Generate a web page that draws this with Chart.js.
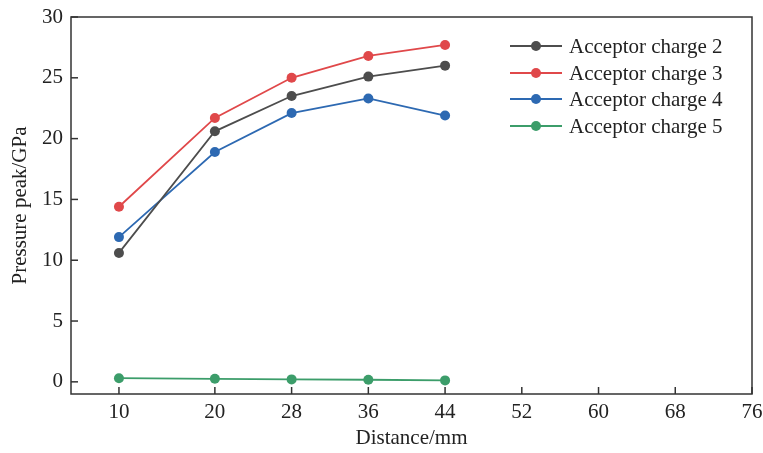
<!DOCTYPE html>
<html>
<head>
<meta charset="utf-8">
<script src="https://cdn.jsdelivr.net/npm/chart.js@4.4.1/dist/chart.umd.min.js"></script>
<style>
html,body{margin:0;padding:0;background:#fff;}
#wrap{width:763px;height:453px;position:relative;}
</style>
</head>
<body>
<div id="wrap"><canvas id="c" width="763" height="453"></canvas></div>
<script>
const distances = [10, 20, 28, 36, 44];
const xTickValues = [10, 20, 28, 36, 44, 52, 60, 68, 76];
const yTickValues = [0, 5, 10, 15, 20, 25, 30];
const charge2 = [10.6, 20.6, 23.5, 25.1, 26.0];
const charge3 = [14.4, 21.7, 25.0, 26.8, 27.7];
const charge4 = [11.9, 18.9, 22.1, 23.3, 21.9];
const charge5 = [0.3, 0.25, 0.2, 0.17, 0.12];
const seriesNames = ['Acceptor charge 2', 'Acceptor charge 3', 'Acceptor charge 4', 'Acceptor charge 5'];
const seriesColors = ['#4d4d4d', '#e0484a', '#2d69b2', '#3c9d6a'];

const FONT = '"Liberation Serif", "Times New Roman", serif';
const AXIS = '#333333';

function toPts(vals){ return vals.map((v,i)=>({x:distances[i], y:v})); }
const allSeries = [charge2, charge3, charge4, charge5];

const datasets = allSeries.map((vals, i) => ({
  label: seriesNames[i],
  data: toPts(vals),
  borderColor: seriesColors[i],
  backgroundColor: seriesColors[i],
  borderWidth: 1.8,
  pointRadius: 5,
  pointHoverRadius: 5,
  pointBorderWidth: 0,
  tension: 0
}));

const framePlugin = {
  id: 'frame',
  afterDraw(chart){
    const {ctx, chartArea:a, scales} = chart;
    ctx.save();
    ctx.strokeStyle = AXIS;
    ctx.lineWidth = 1.5;
    ctx.strokeRect(a.left, a.top, a.right - a.left, a.bottom - a.top);
    const tl = 7;
    scales.x.ticks.forEach(t => {
      const px = scales.x.getPixelForValue(t.value);
      ctx.beginPath(); ctx.moveTo(px, a.bottom); ctx.lineTo(px, a.bottom - tl); ctx.stroke();
    });
    scales.y.ticks.forEach(t => {
      const py = scales.y.getPixelForValue(t.value);
      ctx.beginPath(); ctx.moveTo(a.left, py); ctx.lineTo(a.left + tl, py); ctx.stroke();
    });
    // legend
    const lx0 = 510, lx1 = 562, tx = 569;
    const ys = [46, 73, 99, 126];
    ctx.font = '21px ' + FONT;
    ctx.textBaseline = 'middle';
    ctx.textAlign = 'left';
    chart.data.datasets.forEach((ds, i) => {
      const y = ys[i];
      ctx.strokeStyle = ds.borderColor;
      ctx.lineWidth = 1.8;
      ctx.beginPath(); ctx.moveTo(lx0, y); ctx.lineTo(lx1, y); ctx.stroke();
      ctx.fillStyle = ds.backgroundColor;
      ctx.beginPath(); ctx.arc((lx0 + lx1) / 2, y, 5, 0, Math.PI * 2); ctx.fill();
      ctx.fillStyle = '#222';
      ctx.fillText(ds.label, tx, y + 1);
    });
    ctx.restore();
  }
};

new Chart(document.getElementById('c'), {
  type: 'line',
  data: { datasets },
  options: {
    responsive: false,
    animation: false,
    layout: { padding: { left: 0, right: 11, top: 17, bottom: 0 } },
    plugins: { legend: { display: false }, tooltip: { enabled: false } },
    scales: {
      x: {
        type: 'linear',
        min: 5, max: 76,
        afterBuildTicks(s){ s.ticks = xTickValues.map(v => ({value: v})); },
        afterFit(s){ s.height = 59; s.paddingLeft = 0; s.paddingRight = 0; },
        grid: { drawOnChartArea: false, drawTicks: false },
        border: { display: false },
        ticks: { color: '#222', font: { family: FONT, size: 21 }, padding: 6, maxRotation: 0, autoSkip: false },
        title: { display: true, text: 'Distance/mm', color: '#222', font: { family: FONT, size: 21 }, padding: { top: 0, bottom: 2 } }
      },
      y: {
        type: 'linear',
        min: -1, max: 30,
        afterBuildTicks(s){ s.ticks = yTickValues.map(v => ({value: v})); },
        afterFit(s){ s.width = 71; s.paddingTop = 0; s.paddingBottom = 0; },
        grid: { drawOnChartArea: false, drawTicks: false },
        border: { display: false },
        ticks: { color: '#222', font: { family: FONT, size: 21 }, padding: 8 },
        title: { display: true, text: 'Pressure peak/GPa', color: '#222', font: { family: FONT, size: 21 }, padding: { top: 8, bottom: 0 } }
      }
    }
  },
  plugins: [framePlugin]
});
</script>
</body>
</html>
